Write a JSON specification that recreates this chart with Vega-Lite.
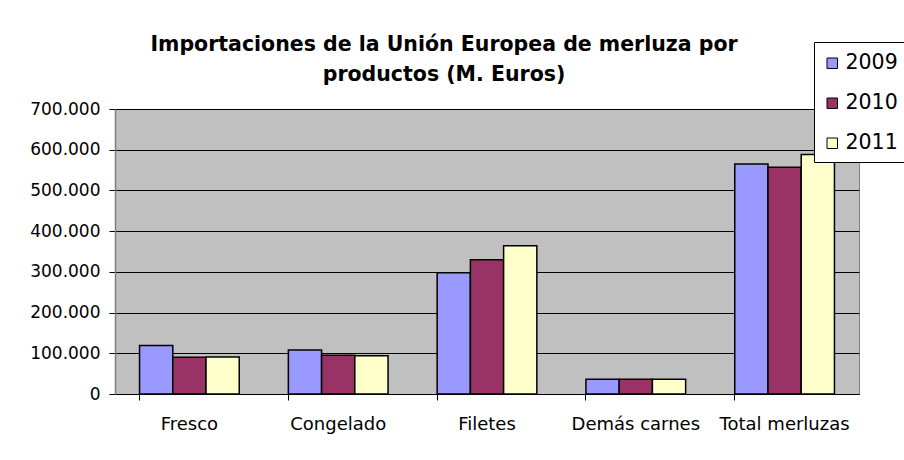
{
  "$schema": "https://vega.github.io/schema/vega-lite/v6.json",
  "width": 744,
  "height": 285,
  "autosize": {"type": "none"},
  "padding": {"left": 115, "top": 109, "right": 45, "bottom": 66},
  "background": "white",
  "title": {
    "text": ["Importaciones de la Unión Europea de merluza por", "productos (M. Euros)"],
    "font": "DejaVu Sans",
    "fontSize": 20.5,
    "fontWeight": "bold",
    "color": "black",
    "lineHeight": 30,
    "anchor": "middle",
    "dx": -43,
    "dy": 66,
    "offset": 22
  },
  "data": {
    "values": [
      {"producto": "Fresco", "año": "2009", "valor": 119000},
      {"producto": "Fresco", "año": "2010", "valor": 90000},
      {"producto": "Fresco", "año": "2011", "valor": 91000},
      {"producto": "Congelado", "año": "2009", "valor": 108000},
      {"producto": "Congelado", "año": "2010", "valor": 95000},
      {"producto": "Congelado", "año": "2011", "valor": 94000},
      {"producto": "Filetes", "año": "2009", "valor": 298000},
      {"producto": "Filetes", "año": "2010", "valor": 330000},
      {"producto": "Filetes", "año": "2011", "valor": 364000},
      {"producto": "Demás carnes", "año": "2009", "valor": 36000},
      {"producto": "Demás carnes", "año": "2010", "valor": 36000},
      {"producto": "Demás carnes", "año": "2011", "valor": 36000},
      {"producto": "Total merluzas", "año": "2009", "valor": 565000},
      {"producto": "Total merluzas", "año": "2010", "valor": 557000},
      {"producto": "Total merluzas", "año": "2011", "valor": 588000}
    ]
  },
  "mark": {"type": "bar", "stroke": "black", "strokeWidth": 1.5},
  "encoding": {
    "x": {
      "field": "producto",
      "type": "nominal",
      "sort": ["Fresco", "Congelado", "Filetes", "Demás carnes", "Total merluzas"],
      "scale": {"paddingInner": 0.33, "paddingOuter": 0.165},
      "axis": {
        "title": null,
        "labelAngle": 0,
        "labelFont": "DejaVu Sans",
        "labelFontSize": 18,
        "labelColor": "black",
        "labelPadding": 15,
        "tickSize": 6,
        "tickColor": "black",
        "bandPosition": 0,
        "domainColor": "black",
        "grid": false
      }
    },
    "xOffset": {
      "field": "año",
      "type": "nominal",
      "scale": {"paddingInner": 0, "paddingOuter": 0}
    },
    "y": {
      "field": "valor",
      "type": "quantitative",
      "scale": {"domain": [0, 700000], "nice": false},
      "axis": {
        "title": null,
        "values": [0, 100000, 200000, 300000, 400000, 500000, 600000, 700000],
        "format": ",d",
        "labelFont": "DejaVu Sans",
        "labelFontSize": 17,
        "labelColor": "black",
        "labelPadding": 9,
        "tickSize": 6,
        "tickColor": "black",
        "domainColor": "#808080",
        "domainWidth": 1.5,
        "gridColor": "black",
        "gridOpacity": 1,
        "gridWidth": 1
      }
    },
    "color": {
      "field": "año",
      "type": "nominal",
      "scale": {"domain": ["2009", "2010", "2011"], "range": ["#9999FF", "#993366", "#FFFFCC"]},
      "legend": {
        "title": " ",
        "titleFontSize": 1,
        "titlePadding": 2,
        "orient": "none",
        "legendX": 699,
        "legendY": -67,
        "direction": "vertical",
        "fillColor": "white",
        "strokeColor": "black",
        "padding": 8,
        "symbolType": "square",
        "symbolSize": 110,
        "symbolStrokeColor": "black",
        "symbolStrokeWidth": 1,
        "labelFont": "DejaVu Sans",
        "labelFontSize": 20.5,
        "labelColor": "black",
        "labelOffset": 3,
        "rowPadding": 19
      }
    }
  },
  "config": {
    "locale": {"number": {"decimal": ",", "thousands": ".", "grouping": [3], "currency": ["", " €"]}},
    "view": {"fill": "#C0C0C0", "stroke": "#808080", "strokeWidth": 1}
  }
}
